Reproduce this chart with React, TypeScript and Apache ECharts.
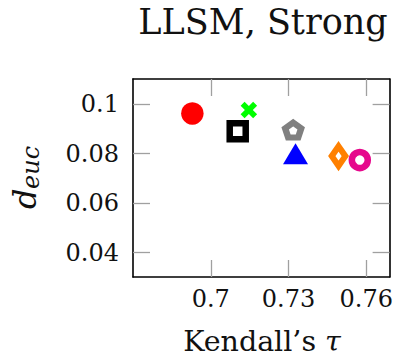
import React, { useEffect, useRef } from "react";
import * as echarts from "echarts";

const titleText = "LLSM, Strong";
const xTicks = [0.7, 0.73, 0.76];
const yTicks = [0.04, 0.06, 0.08, 0.1];
const xRange = [0.67, 0.769];
const yRange = [0.0302, 0.1101];

// one point per method: Kendall's tau, d_euc
const tauValues = [0.6929, 0.7147, 0.7104, 0.7318, 0.7327, 0.7493, 0.7575];
const deucValues = [0.0962, 0.0976, 0.089, 0.0895, 0.0799, 0.079, 0.0774];

const FONT = "'DejaVu Serif', 'Liberation Serif', serif";

const crossPath =
  "path://M0,2.4 L2.4,0 L5,2.6 L7.6,0 L10,2.4 L7.4,5 L10,7.6 L7.6,10 L5,7.4 L2.4,10 L0,7.6 L2.6,5 Z";
const pentagonPath =
  "path://M5,0 L9.755,3.455 L7.939,9.045 L2.061,9.045 L0.245,3.455 Z";

const markerStyles = [
  { symbol: "circle", size: 22.5, color: "#ff0000", border: "#ff0000", bw: 0 },
  { symbol: crossPath, size: 16.5, color: "#00ff00", border: "#00ff00", bw: 0 },
  { symbol: "rect", size: 16, color: "#ffffff", border: "#000000", bw: 6.5 },
  { symbol: pentagonPath, size: [16, 15], color: "#ffffff", border: "#808080", bw: 6.3 },
  { symbol: "triangle", size: [25, 21], color: "#0000ff", border: "#0000ff", bw: 0 },
  { symbol: "diamond", size: [13.5, 19.5], color: "#ffffff", border: "#ff8000", bw: 6.3 },
  { symbol: "circle", size: 16, color: "#ffffff", border: "#e6088c", bw: 6.5 },
];

export default function App() {
  const ref = useRef<HTMLDivElement>(null);
  useEffect(() => {
    document.body.style.margin = "0";
    const chart = echarts.init(ref.current!, null, { renderer: "svg" });
    const tickStyle = {
      show: true,
      inside: true,
      length: 17,
      lineStyle: { color: "#a0a0a0", width: 1.3 },
    };
    const axisLine = { show: true, lineStyle: { color: "#000", width: 1.6 } };
    const labelStyle = {
      fontFamily: FONT,
      fontSize: 24,
      color: "#111",
    };
    chart.setOption({
      animation: false,
      textStyle: { fontFamily: FONT },
      grid: { left: 133, right: 6, top: 79, bottom: 82 },
      xAxis: [
        {
          type: "value",
          min: xRange[0],
          max: xRange[1],
          position: "bottom",
          axisLine,
          axisTick: { ...tickStyle, customValues: xTicks },
          axisLabel: {
            ...labelStyle,
            margin: 10,
            customValues: xTicks,
            formatter: (v: number) => String(v),
          },
          splitLine: { show: false },
        },
        {
          type: "value",
          min: xRange[0],
          max: xRange[1],
          position: "top",
          axisLine,
          axisTick: { ...tickStyle, customValues: xTicks },
          axisLabel: { show: false },
          splitLine: { show: false },
        },
      ],
      yAxis: [
        {
          type: "value",
          min: yRange[0],
          max: yRange[1],
          position: "left",
          axisLine,
          axisTick: { ...tickStyle, customValues: yTicks },
          axisLabel: {
            ...labelStyle,
            margin: 14,
            customValues: yTicks,
            formatter: (v: number) => String(v),
          },
          splitLine: { show: false },
        },
        {
          type: "value",
          min: yRange[0],
          max: yRange[1],
          position: "right",
          axisLine,
          axisTick: { ...tickStyle, customValues: yTicks },
          axisLabel: { show: false },
          splitLine: { show: false },
        },
      ],
      series: tauValues.map((t, i) => {
        const m = markerStyles[i];
        return {
          type: "scatter",
          xAxisIndex: 0,
          yAxisIndex: 0,
          symbol: m.symbol,
          symbolSize: m.size,
          itemStyle: {
            color: m.color,
            borderColor: m.border,
            borderWidth: m.bw,
            opacity: 1,
          },
          data: [[t, deucValues[i]]],
          z: 3,
        };
      }),
      graphic: [
        {
          type: "text",
          x: 263,
          y: 22,
          style: {
            text: titleText,
            fontFamily: FONT,
            fontSize: 35,
            fill: "#111",
            align: "center",
            verticalAlign: "middle",
          },
        },
        {
          type: "text",
          x: 262,
          y: 341,
          style: {
            text: "{n|Kendall’s }{t|τ}",
            fontFamily: FONT,
            fontSize: 28.5,
            fill: "#111",
            align: "center",
            verticalAlign: "middle",
            rich: {
              n: { fontFamily: FONT, fontSize: 28.5, fill: "#111" },
              t: { fontFamily: FONT, fontSize: 28.5, fontStyle: "italic", fill: "#111" },
            },
          },
        },
        {
          type: "group",
          x: 25,
          y: 209,
          rotation: Math.PI / 2,
          children: [
            {
              type: "text",
              x: 0,
              y: 0,
              style: {
                text: "d",
                fontFamily: FONT,
                fontStyle: "italic",
                fontSize: 32,
                fill: "#111",
                align: "left",
                verticalAlign: "middle",
              },
            },
            {
              type: "text",
              x: 20,
              y: 6,
              style: {
                text: "euc",
                fontFamily: FONT,
                fontStyle: "italic",
                fontSize: 24,
                fill: "#111",
                align: "left",
                verticalAlign: "middle",
              },
            },
          ],
        },
      ],
    });
    return () => chart.dispose();
  }, []);
  return <div ref={ref} style={{ width: 396, height: 359 }} />;
}
